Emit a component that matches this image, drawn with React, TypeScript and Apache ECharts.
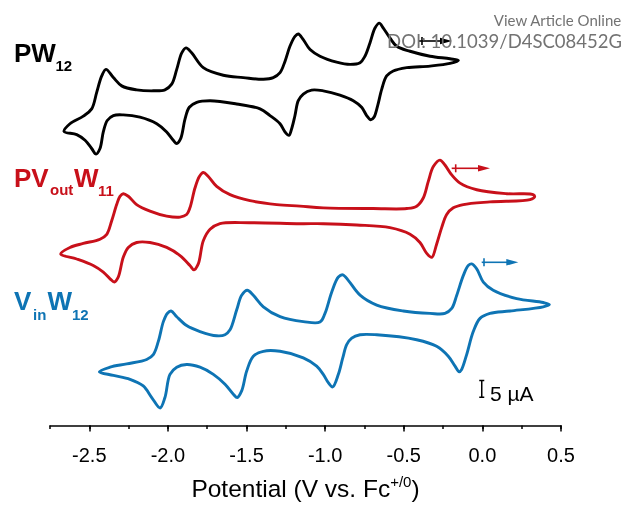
import React, { useEffect, useRef } from "react";
import * as echarts from "echarts";

// Potential (V vs. Fc+/0) and current (µA) along each closed CV loop
const pw12Potential = [-2.661,-2.623,-2.538,-2.485,-2.453,-2.421,-2.394,-2.347,-2.294,-2.199,-2.093,-2.019,-1.976,-1.944,-1.912,-1.885,-1.849,-1.775,-1.648,-1.521,-1.393,-1.330,-1.287,-1.255,-1.224,-1.192,-1.171,-1.139,-1.096,-1.033,-0.927,-0.842,-0.778,-0.747,-0.715,-0.683,-0.656,-0.630,-0.588,-0.545,-0.460,-0.333,-0.206,-0.153,
  -0.206,-0.333,-0.481,-0.567,-0.609,-0.640,-0.666,-0.689,-0.710,-0.736,-0.768,-0.821,-0.906,-1.012,-1.086,-1.139,-1.171,-1.192,-1.213,-1.230,-1.255,-1.287,-1.351,-1.414,-1.563,-1.732,-1.817,-1.864,-1.891,-1.919,-1.944,-1.966,-2.008,-2.071,-2.178,-2.284,-2.347,-2.386,-2.411,-2.432,-2.457,-2.485,-2.527,-2.580,-2.661];
const pw12Current = [-12.56,-10.29,-8.03,-5.88,-0.97,3.91,5.88,3.44,0.97,-0.21,-0.5,-0.21,1.47,5.88,10.79,12.26,10.79,6.38,4.12,3.44,2.94,3.44,4.91,8.32,12.74,15.68,16.38,14.71,11.76,9.79,8.03,7.35,7.85,9.79,13.74,18.15,19.62,18.15,15.21,12.74,11.26,9.79,9.03,8.53,
  7.65,6.85,6.38,5.38,3.91,0,-4.91,-8.32,-9.12,-7.85,-5.38,-3.44,-1.76,-0.5,-0.29,-1.47,-3.44,-7.85,-11.76,-13.74,-12.74,-10.29,-7.85,-5.88,-4.41,-3.44,-3.91,-5.38,-8.82,-14.71,-16.18,-15.21,-12.74,-10.29,-8.32,-7.65,-7.85,-9.32,-12.74,-17.65,-19.32,-17.65,-15.21,-13.53,-12.56];

const pvPotential = [-2.682,-2.623,-2.538,-2.432,-2.389,-2.358,-2.326,-2.305,-2.284,-2.252,-2.199,-2.114,-2.008,-1.923,-1.881,-1.860,-1.828,-1.800,-1.775,-1.743,-1.690,-1.605,-1.478,-1.308,-1.160,-1.012,-0.694,-0.481,-0.418,-0.376,-0.344,-0.312,-0.270,-0.238,-0.195,-0.142,-0.036,0.155,0.324,0.332,
  0.303,0.048,-0.121,-0.185,-0.227,-0.259,-0.291,-0.322,-0.354,-0.397,-0.460,-0.588,-0.799,-1.012,-1.160,-1.478,-1.669,-1.732,-1.775,-1.807,-1.834,-1.860,-1.923,-2.008,-2.114,-2.199,-2.252,-2.284,-2.316,-2.341,-2.368,-2.411,-2.475,-2.580,-2.682];
const pvCurrent = [-14.03,-12.06,-10.88,-9.62,-8.15,-4.21,0.68,3.15,3.91,3.15,0.68,-1.26,-2.74,-3.03,-2.26,-0.29,5.59,9.03,10.21,9.03,6.09,3.62,1.85,0.68,0.21,-0.29,-0.5,-0.5,0.21,2.65,7.56,11.97,13.91,12.44,9.5,7.06,5.09,3.91,3.62,2.94,
  2.15,1.47,0.68,-0.29,-2.26,-6.18,-11.09,-15.0,-13.82,-10.59,-8.15,-6.18,-5.38,-5.0,-5.0,-4.71,-5.0,-6.68,-10.09,-16.97,-18.74,-17.44,-14.5,-12.06,-10.59,-10.59,-12.06,-15.0,-20.88,-22.35,-21.38,-19.41,-17.44,-15.5,-14.03];

const vinPotential = [-2.436,-2.368,-2.262,-2.135,-2.093,-2.061,-2.029,-2.004,-1.980,-1.944,-1.881,-1.796,-1.690,-1.637,-1.605,-1.563,-1.531,-1.495,-1.457,-1.393,-1.287,-1.139,-1.033,-1.001,-0.958,-0.916,-0.888,-0.853,-0.778,-0.672,-0.503,-0.333,-0.238,-0.195,-0.163,-0.121,-0.090,-0.068,-0.036,0.006,0.069,0.218,0.387,0.426,
  0.387,0.176,0.048,-0.015,-0.058,-0.100,-0.132,-0.147,-0.174,-0.217,-0.291,-0.418,-0.672,-0.778,-0.831,-0.863,-0.888,-0.916,-0.952,-0.980,-1.012,-1.054,-1.139,-1.287,-1.393,-1.457,-1.499,-1.531,-1.559,-1.584,-1.637,-1.711,-1.796,-1.881,-1.944,-1.987,-2.019,-2.050,-2.103,-2.157,-2.241,-2.347,-2.436];
const vinCurrent = [-14.03,-12.65,-11.68,-10.38,-8.91,-5.0,0.88,3.32,4.03,2.35,-0.29,-2.06,-3.32,-3.03,-1.56,4.32,8.74,10.21,8.74,5.29,2.35,0.88,0.74,3.32,9.71,14.12,14.79,13.15,8.74,5.79,4.03,3.32,3.32,4.79,8.74,14.62,17.56,18.03,16.56,12.65,10.21,7.74,6.56,5.97,
  5.29,4.03,3.32,1.85,-2.06,-8.91,-13.32,-14.03,-12.35,-9.41,-6.47,-4.5,-3.03,-3.03,-4.03,-5.97,-9.91,-14.79,-18.53,-17.26,-14.79,-12.35,-9.91,-7.94,-7.94,-9.41,-13.82,-19.71,-21.68,-20.68,-17.74,-14.79,-12.65,-11.85,-12.65,-14.79,-21.68,-24.79,-21.68,-18.24,-16.26,-15.09,-14.03];

// vertical offsets (µA) used to stack the three voltammograms
const offsets = [100, 65, 30];
const tickValues = [-2.5, -2.0, -1.5, -1.0, -0.5, 0.0, 0.5];
const scaleBar = { potential: -0.004, base: 8.4, length: 5, label: "5 µA" };

const FONT = "'Liberation Sans', Arial, Helvetica, sans-serif";
const BLACK = "#000000";
const RED = "#c8101a";
const BLUE = "#0e74b4";

function toPairs(xs: number[], ys: number[], off: number) {
  return xs.map((x, i) => [x, +(ys[i] + off).toFixed(3)]);
}

// centripetal Catmull-Rom through pixel points of a closed loop -> SVG path
function loopPath(pts: number[][]): string {
  let p = pts.slice();
  const a = p[0], b = p[p.length - 1];
  if (Math.abs(a[0] - b[0]) < 1e-6 && Math.abs(a[1] - b[1]) < 1e-6) p = p.slice(0, -1);
  p = p.filter((q, i) => i === 0 || Math.hypot(q[0] - p[i - 1][0], q[1] - p[i - 1][1]) > 0.05);
  const n = p.length;
  const at = (i: number) => p[((i % n) + n) % n];
  let d = `M${p[0][0].toFixed(2)},${p[0][1].toFixed(2)}`;
  for (let i = 0; i < n; i++) {
    const p0 = at(i - 1), p1 = at(i), p2 = at(i + 1), p3 = at(i + 2);
    const L01 = Math.hypot(p1[0] - p0[0], p1[1] - p0[1]);
    const L12 = Math.hypot(p2[0] - p1[0], p2[1] - p1[1]);
    const L23 = Math.hypot(p3[0] - p2[0], p3[1] - p2[1]);
    const s1 = Math.sqrt(L01), s2 = Math.sqrt(L12), s3 = Math.sqrt(L23);
    const b1 = [0, 0], b2 = [0, 0];
    for (let k = 0; k < 2; k++) {
      b1[k] = s1 > 0 ? (L01 * p2[k] - L12 * p0[k] + (2 * L01 + 3 * s1 * s2 + L12) * p1[k]) / (3 * s1 * (s1 + s2)) : p1[k];
      b2[k] = s3 > 0 ? (L23 * p1[k] - L12 * p3[k] + (2 * L23 + 3 * s3 * s2 + L12) * p2[k]) / (3 * s3 * (s3 + s2)) : p2[k];
    }
    d += `C${b1[0].toFixed(2)},${b1[1].toFixed(2)} ${b2[0].toFixed(2)},${b2[1].toFixed(2)} ${p2[0].toFixed(2)},${p2[1].toFixed(2)}`;
  }
  return d + "Z";
}

export default function App() {
  const ref = useRef<HTMLDivElement>(null);
  useEffect(() => {
    if (!ref.current) return;
    const chart = echarts.init(ref.current, null, { renderer: "svg" });
    const cvSeries = (name: string, data: number[][], color: string) => ({
      name,
      type: "custom",
      data,
      encode: { x: 0, y: 1 },
      silent: true,
      z: 3,
      renderItem: (params: any, api: any) => {
        if (params.dataIndex !== 0) return null;
        const px = data.map((v) => api.coord(v));
        return {
          type: "path",
          shape: { pathData: loopPath(px) },
          style: { stroke: color, fill: "none", lineWidth: 2.9, lineJoin: "round", lineCap: "round" },
        };
      },
    });
    const sb = scaleBar;
    const cap = 0.016;
    const scaleData = [
      [sb.potential - cap, sb.base],
      [sb.potential + cap, sb.base],
      [sb.potential, sb.base],
      [sb.potential, sb.base + sb.length],
      [sb.potential - cap, sb.base + sb.length],
      [sb.potential + cap, sb.base + sb.length],
    ];
    const txt = (x: number, y: number, text: string, size: number, color: string, bold = true) => ({
      type: "text",
      x,
      y,
      silent: true,
      style: {
        text,
        fill: color,
        fontSize: size,
        fontWeight: bold ? "bold" : "normal",
        fontFamily: FONT,
        align: "left",
        verticalAlign: "middle",
      },
    });
    const arrow = (x0: number, y: number, x1: number, tickX: number, color: string) => [
      { type: "line", silent: true, shape: { x1: x0, y1: y, x2: x1 - 8, y2: y }, style: { stroke: color, lineWidth: 1.6 } },
      { type: "line", silent: true, shape: { x1: tickX, y1: y - 4, x2: tickX, y2: y + 4 }, style: { stroke: color, lineWidth: 1.6 } },
      { type: "polygon", silent: true, shape: { points: [[x1 - 12, y - 3.3], [x1, y], [x1 - 12, y + 3.3]] }, style: { fill: color } },
    ];
    chart.setOption({
      animation: false,
      grid: { left: 50, right: 63, top: 0, bottom: 76, containLabel: false },
      xAxis: [
        {
          type: "value",
          min: -2.75,
          max: 0.5,
          position: "bottom",
          axisLine: { show: true, onZero: false, lineStyle: { color: "#000", width: 1.5 } },
          axisTick: { show: true, customValues: tickValues, length: 6, inside: false, lineStyle: { color: "#000", width: 1.5 } },
          axisLabel: {
            show: true,
            customValues: tickValues,
            formatter: (v: number) => v.toFixed(1),
            fontSize: 20,
            fontFamily: FONT,
            color: "#000",
            margin: 19,
          },
          splitLine: { show: false },
          name: "{a|Potential (V vs. Fc}{b|+/0}{a|)}",
          nameLocation: "middle",
          nameGap: 48,
          nameTextStyle: {
            rich: {
              a: { fontSize: 24.5, fontFamily: FONT, color: "#000", lineHeight: 30 },
              b: { fontSize: 15, fontFamily: FONT, color: "#000", verticalAlign: "top", lineHeight: 17 },
            },
          },
        },
        {
          type: "value",
          min: -2.75,
          max: 0.5,
          interval: 0.25,
          position: "bottom",
          axisLine: { show: false, onZero: false },
          axisTick: { show: true, length: 3.5, lineStyle: { color: "#000", width: 1.5 } },
          axisLabel: { show: false },
          splitLine: { show: false },
        },
      ],
      yAxis: { type: "value", min: 0, max: 126.5, show: false, splitLine: { show: false } },
      series: [
        cvSeries("PW12", toPairs(pw12Potential, pw12Current, offsets[0]), BLACK),
        cvSeries("PVoutW11", toPairs(pvPotential, pvCurrent, offsets[1]), RED),
        cvSeries("VinW12", toPairs(vinPotential, vinCurrent, offsets[2]), BLUE),
        {
          name: "scale",
          type: "line",
          data: scaleData,
          showSymbol: false,
          symbol: "none",
          lineStyle: { color: "#000", width: 1.5 },
          silent: true,
        },
      ],
      graphic: [
        txt(14, 52.5, "PW", 26, BLACK),
        txt(55.5, 65.3, "12", 15, BLACK),
        txt(14, 177.5, "PV", 26, RED),
        txt(50, 189.8, "out", 15, RED),
        txt(74, 177.5, "W", 26, RED),
        txt(98, 190.8, "11", 15, RED),
        txt(14, 301, "V", 26, BLUE),
        txt(33, 314.8, "in", 15, BLUE),
        txt(47.5, 301, "W", 26, BLUE),
        txt(72, 314.6, "12", 15, BLUE),
        txt(490, 393.5, sb.label, 21, "#000", false),
        ...arrow(419, 41, 452, 422, BLACK),
        ...arrow(451.7, 168.3, 490, 455.7, RED),
        ...arrow(481.7, 262.3, 518.3, 484, BLUE),
        {
          type: "text",
          right: 2,
          top: 12,
          silent: true,
          z: 100,
          style: { text: "View Article Online", fill: "#737373", fontSize: 15, fontFamily: "Lato, 'Open Sans', sans-serif", align: "right" },
        },
        {
          type: "text",
          right: 2,
          top: 31,
          silent: true,
          z: 100,
          style: { text: "DOI: 10.1039/D4SC08452G", fill: "#737373", fontSize: 18.5, fontFamily: "Lato, 'Open Sans', sans-serif", align: "right" },
        },
      ],
    });
    return () => chart.dispose();
  }, []);
  return <div ref={ref} style={{ position: "fixed", left: 0, top: 0, width: 624, height: 506 }} />;
}
